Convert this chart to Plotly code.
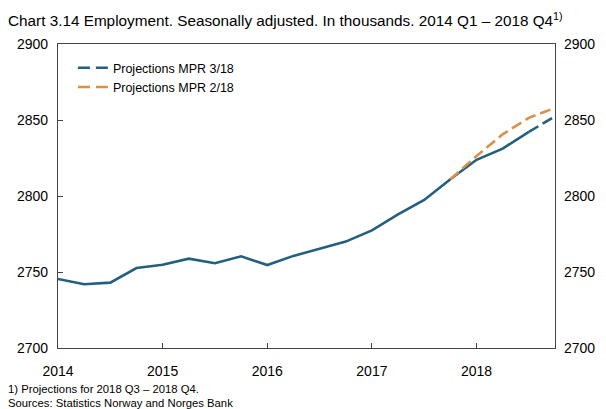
import plotly.graph_objects as go

quarters = ["2014 Q1", "2014 Q2", "2014 Q3", "2014 Q4",
            "2015 Q1", "2015 Q2", "2015 Q3", "2015 Q4",
            "2016 Q1", "2016 Q2", "2016 Q3", "2016 Q4",
            "2017 Q1", "2017 Q2", "2017 Q3", "2017 Q4",
            "2018 Q1", "2018 Q2", "2018 Q3", "2018 Q4"]
employment_mpr318 = [2745.4, 2741.9, 2743.0, 2752.6,
                     2754.8, 2758.8, 2755.8, 2760.3,
                     2754.6, 2760.6, 2765.3, 2770.0,
                     2777.4, 2787.9, 2797.4, 2811.0,
                     2823.8, 2831.2, 2842.2, 2852.4]
proj_mpr218_quarters = ["2017 Q4", "2018 Q1", "2018 Q2", "2018 Q3", "2018 Q4"]
proj_mpr218 = [2811.0, 2826.3, 2840.6, 2851.4, 2858.0]
year_ticks = [2014, 2015, 2016, 2017, 2018]
y_ticks = [2700, 2750, 2800, 2850, 2900]


def qx(label):
    y, q = label.split(" Q")
    return int(y) + (int(q) - 1) / 4.0


x_all = [qx(q) for q in quarters]
n_solid = quarters.index("2018 Q3") + 1
blue = "#245f80"
orange = "#d8914a"
dash = "11px,5px"

fig = go.Figure()
fig.add_trace(go.Scatter(x=x_all[:n_solid], y=employment_mpr318[:n_solid], mode="lines",
                         line=dict(color=blue, width=2.6), showlegend=False, hoverinfo="skip"))
fig.add_trace(go.Scatter(x=[qx(q) for q in proj_mpr218_quarters], y=proj_mpr218, mode="lines",
                         line=dict(color=orange, width=2.6, dash=dash),
                         name="Projections MPR 2/18", showlegend=False))
fig.add_trace(go.Scatter(x=x_all[n_solid - 1:], y=employment_mpr318[n_solid - 1:], mode="lines",
                         line=dict(color=blue, width=2.6, dash=dash),
                         name="Projections MPR 3/18", showlegend=False))
# legend entries
fig.add_trace(go.Scatter(x=[None], y=[None], mode="lines",
                         line=dict(color=blue, width=2.6, dash="12px,6px"), name="Projections MPR 3/18"))
fig.add_trace(go.Scatter(x=[None], y=[None], mode="lines",
                         line=dict(color=orange, width=2.6, dash="12px,6px"), name="Projections MPR 2/18"))
# right axis dummy
fig.add_trace(go.Scatter(x=[None], y=[None], yaxis="y2", showlegend=False))

axis_font = dict(family="Liberation Sans, Arial, sans-serif", size=14, color="black")
fig.update_layout(
    width=606, height=409,
    margin=dict(l=58, r=51, t=44, b=61, autoexpand=False),
    plot_bgcolor="white", paper_bgcolor="white",
    font=dict(family="Liberation Sans, Arial, sans-serif", color="black"),
    xaxis=dict(range=[2014, 2018.75], tickvals=year_ticks, ticktext=[str(t) for t in year_ticks],
               ticks="inside", ticklen=5, tickcolor="#444", showgrid=False, zeroline=False,
               showline=True, linecolor="#444", linewidth=1.2, mirror=True, automargin=False,
               tickfont=axis_font, ticklabelstandoff=10),
    yaxis=dict(range=[2700, 2900], tickvals=y_ticks, ticks="inside", ticklen=5, tickcolor="#444",
               showgrid=False, zeroline=False, showline=True, linecolor="#444", linewidth=1.2,
               mirror=True, automargin=False, tickfont=axis_font, ticklabelstandoff=6),
    yaxis2=dict(range=[2700, 2900], tickvals=y_ticks, overlaying="y", side="right",
                ticks="", showgrid=False, zeroline=False, showline=False, automargin=False,
                tickfont=axis_font, ticklabelstandoff=8),
    legend=dict(x=0.03, y=0.97, xanchor="left", yanchor="top", bgcolor="rgba(0,0,0,0)",
                font=dict(size=12.5, color="black"), itemwidth=30, tracegroupgap=0),
    showlegend=True,
)
fig.add_annotation(text="Chart 3.14 Employment. Seasonally adjusted. In thousands. 2014 Q1 \u2013 2018 Q4<sup>1)</sup>",
                   xref="paper", yref="paper", x=-58 / 497, y=(348 - 19) / 304,
                   xanchor="left", yanchor="middle", showarrow=False,
                   font=dict(size=15.3, color="black"), xshift=6)
fig.add_annotation(text="1) Projections for 2018 Q3 \u2013 2018 Q4.",
                   xref="paper", yref="paper", x=-58 / 497, y=-(389 - 348) / 304,
                   xanchor="left", yanchor="middle", showarrow=False,
                   font=dict(size=11.3, color="black"), xshift=6)
fig.add_annotation(text="Sources: Statistics Norway and Norges Bank",
                   xref="paper", yref="paper", x=-58 / 497, y=-(402.5 - 348) / 304,
                   xanchor="left", yanchor="middle", showarrow=False,
                   font=dict(size=11.3, color="black"), xshift=6)
fig.write_html("out.html", config={"displayModeBar": False},
               post_script="document.body.style.margin='0px';document.body.style.padding='0px';")
